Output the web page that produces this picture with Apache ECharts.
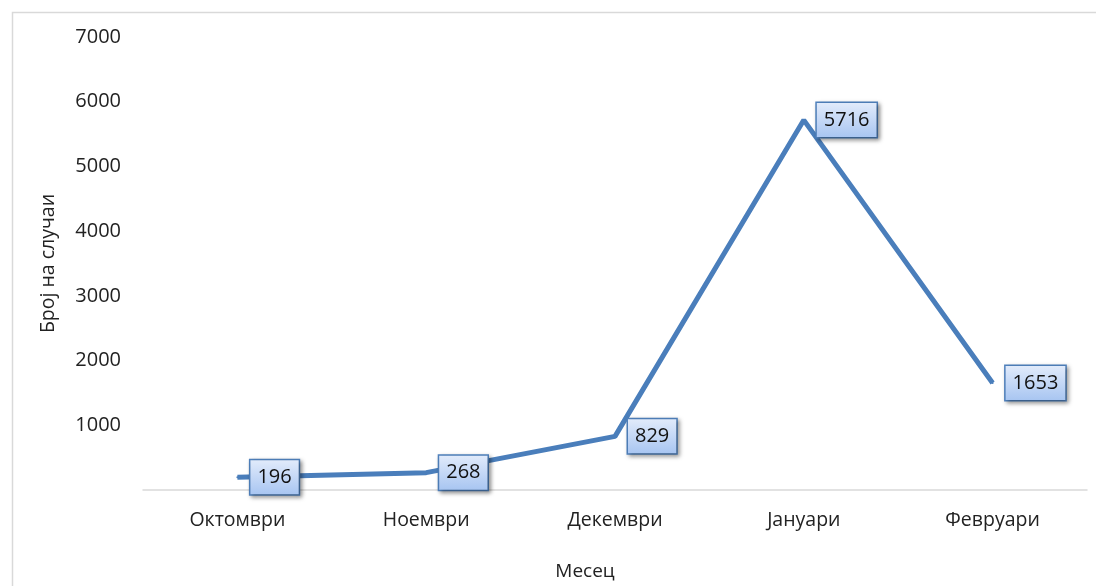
<!DOCTYPE html>
<html>
<head>
<meta charset="utf-8">
<script src="https://cdn.jsdelivr.net/npm/echarts@6/dist/echarts.min.js"></script>
<style>html,body{margin:0;padding:0;background:#fff;}#c{width:1096px;height:586px;}</style>
</head>
<body>
<div id="c"></div>
<script>
var categories = ['Октомври', 'Ноември', 'Декември', 'Јануари', 'Февруари'];
var cases = [196, 268, 829, 5716, 1653];
var yTicks = [0, 1000, 2000, 3000, 4000, 5000, 6000, 7000];
var xTitle = 'Месец';
var yTitle = 'Број на случаи';

var FONT = "'Open Sans', 'Noto Sans', sans-serif";
var chart = echarts.init(document.getElementById('c'));
chart.setOption({
  animation: false,
  backgroundColor: '#fff',
  graphic: [{
    type: 'rect',
    shape: { x: 12.5, y: 12.5, width: 1200, height: 700 },
    style: { fill: 'none', stroke: '#d9d9d9', lineWidth: 1.5 },
    silent: true
  }],
  grid: { left: 143, right: 9, top: 37, bottom: 96 },
  xAxis: {
    type: 'category',
    data: categories,
    boundaryGap: true,
    axisLine: { lineStyle: { color: '#d9d9d9', width: 1.5 } },
    axisTick: { show: false },
    axisLabel: { color: '#222', fontFamily: FONT, fontSize: 19.5, margin: 20 },
    name: xTitle,
    nameLocation: 'middle',
    nameGap: 72,
    nameTextStyle: { color: '#222', fontFamily: FONT, fontSize: 19, padding: [0, 60, 0, 0] }
  },
  yAxis: {
    type: 'value',
    min: yTicks[0],
    max: yTicks[yTicks.length - 1],
    interval: 1000,
    splitLine: { show: false },
    axisLine: { show: false },
    axisTick: { show: false },
    axisLabel: {
      color: '#222', fontFamily: FONT, fontSize: 20, margin: 22,
      formatter: function (v) { return v === 0 ? '' : String(v); }
    },
    name: yTitle,
    nameLocation: 'middle',
    nameGap: 75,
    nameTextStyle: { color: '#222', fontFamily: FONT, fontSize: 19.5, padding: [0, 0, 10, 0] }
  },
  series: [{
    type: 'line',
    data: cases,
    symbol: 'circle',
    symbolSize: 2,
    itemStyle: { color: '#4a7ebb' },
    lineStyle: { color: '#4a7ebb', width: 5 },
    label: {
      show: true,
      position: 'right',
      distance: 12,
      fontFamily: FONT,
      fontSize: 20,
      color: '#111',
      lineHeight: 23,
      padding: [6, 7, 5, 7],
      borderColor: '#4f81bd',
      borderWidth: 1.5,
      backgroundColor: {
        type: 'linear', x: 0, y: 0, x2: 0, y2: 1,
        colorStops: [{ offset: 0, color: '#e3ecfb' }, { offset: 1, color: '#a6c4f1' }]
      },
      shadowColor: 'rgba(0,0,0,0.35)',
      shadowBlur: 4,
      shadowOffsetX: 2,
      shadowOffsetY: 2
    }
  }]
});
</script>
</body>
</html>
